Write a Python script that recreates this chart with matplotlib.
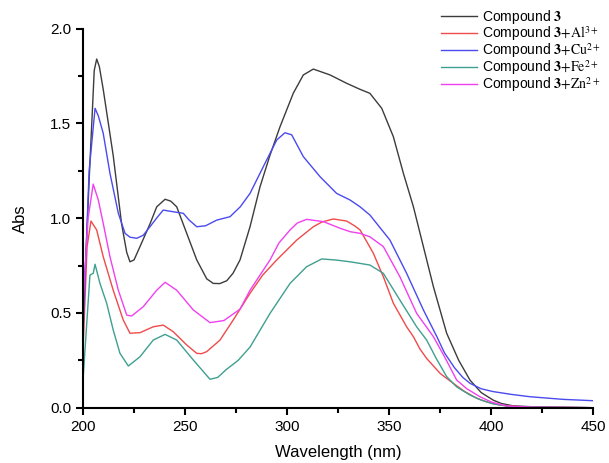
import matplotlib.pyplot as plt
from matplotlib.ticker import MultipleLocator

plt.rcParams['font.family'] = ['Liberation Sans', 'DejaVu Sans']
plt.rcParams['mathtext.fontset'] = 'stix'

# wavelength (nm) / absorbance
wl_c3 = [200, 203, 205.5, 206.7, 208, 209.9, 214.8, 218.9, 221.4, 223, 225, 227.9, 232.8, 236.1,
         240.2, 243, 245.9, 250.8, 255.7, 260.6, 263.8, 267, 270.4, 273.5, 276.9, 281.8, 286.7,
         291.5, 296.5, 303, 307.9, 312.8, 321, 329.1, 335.7, 340.5, 346.3, 352, 356.9, 361.8,
         366.7, 371.6, 378.1, 384, 389.5, 395, 400.9, 405, 410.6, 420, 450]
abs_c3 = [0.45, 1.2, 1.78, 1.84, 1.8, 1.68, 1.33, 0.97, 0.82, 0.77, 0.78, 0.85, 0.97, 1.06,
          1.10, 1.09, 1.06, 0.92, 0.78, 0.68, 0.656, 0.655, 0.67, 0.71, 0.78, 0.955, 1.166,
          1.33, 1.483, 1.66, 1.756, 1.787, 1.756, 1.712, 1.68, 1.659, 1.58, 1.43, 1.237, 1.061,
          0.85, 0.639, 0.393, 0.25, 0.146, 0.08, 0.04, 0.022, 0.01, 0.005, 0.0]

wl_al = [200, 202, 203.9, 206.7, 209.9, 214.8, 219.7, 223, 227.9, 234.4, 239.3, 244.2, 250.8,
         255.7, 258, 260.6, 267.1, 274, 281.8, 288, 294.9, 304.7, 312.8, 317, 322.6, 329.1,
         333, 335.7, 342.2, 347.1, 352, 358.5, 361.8, 365, 368.3, 375, 381.3, 387, 392.8, 398,
         404.2, 415, 450]
abs_al = [0.3, 0.85, 0.985, 0.938, 0.797, 0.62, 0.463, 0.393, 0.396, 0.427, 0.436, 0.401, 0.331,
          0.287, 0.285, 0.296, 0.357, 0.47, 0.604, 0.70, 0.78, 0.885, 0.955, 0.98, 0.996, 0.985,
          0.96, 0.938, 0.815, 0.691, 0.551, 0.427, 0.375, 0.31, 0.26, 0.18, 0.129, 0.085, 0.05,
          0.03, 0.014, 0.004, 0.0]

wl_cu = [200, 203, 205.9, 207.5, 209.9, 213.2, 217.3, 220.6, 223, 226.3, 229.5, 232.8, 236,
         239.3, 244.2, 249.1, 252, 255.7, 260, 265.5, 272, 277, 281.8, 288.3, 294.9, 298.9,
         302.2, 307.9, 316.1, 324.2, 330.8, 335.7, 340.5, 350.3, 358.5, 366.7, 373.3, 377,
         382, 386, 389.5, 395, 400.9, 410, 418.9, 435.2, 449.9]
abs_cu = [0.4, 1.25, 1.58, 1.54, 1.448, 1.237, 1.026, 0.92, 0.90, 0.894, 0.91, 0.955, 1.0,
          1.043, 1.034, 1.026, 0.99, 0.955, 0.96, 0.99, 1.008, 1.06, 1.131, 1.272, 1.413, 1.451,
          1.44, 1.325, 1.219, 1.131, 1.096, 1.06, 1.017, 0.885, 0.709, 0.516, 0.375, 0.29,
          0.21, 0.16, 0.129, 0.1, 0.085, 0.07, 0.058, 0.044, 0.037]

wl_fe = [200, 203.4, 205, 205.9, 208.3, 211.6, 214.8, 218.1, 222.2, 227.9, 234.4, 240.2, 245.9,
         254, 262.2, 266, 270, 276, 281.8, 291.6, 301.4, 309.5, 316.9, 324.2, 330.8, 340.5,
         347.1, 355.2, 363.4, 368.3, 373, 378.1, 383, 389.5, 395, 400.9, 410, 450]
abs_fe = [0.146, 0.70, 0.709, 0.757, 0.656, 0.551, 0.41, 0.287, 0.22, 0.269, 0.357, 0.387, 0.357,
          0.252, 0.15, 0.16, 0.2, 0.25, 0.32, 0.498, 0.656, 0.744, 0.785, 0.779, 0.77, 0.753,
          0.709, 0.568, 0.427, 0.357, 0.26, 0.164, 0.11, 0.067, 0.04, 0.02, 0.005, 0.0]

wl_zn = [200, 202.5, 205, 207.5, 209.9, 213.2, 217.3, 221.4, 223.8, 229.5, 236.1, 240.2, 245.9,
         254, 262.2, 269, 276.9, 281.8, 286.7, 291.6, 296, 301.4, 305, 309.5, 317.7, 325.9,
         330.8, 335.7, 340.5, 347.1, 355.2, 363.4, 371.6, 377, 383, 388, 394.4, 400, 407.5,
         420, 450]
abs_zn = [0.55, 1.0, 1.18, 1.096, 0.973, 0.797, 0.62, 0.489, 0.484, 0.533, 0.62, 0.662, 0.62,
          0.516, 0.449, 0.46, 0.52, 0.62, 0.70, 0.78, 0.87, 0.938, 0.975, 0.994, 0.982, 0.947,
          0.929, 0.92, 0.902, 0.85, 0.691, 0.498, 0.375, 0.27, 0.146, 0.1, 0.058, 0.03, 0.009,
          0.003, 0.0]

labels = [r'Compound $\mathbf{3}$',
          r'Compound $\mathbf{3}\mathrm{+Al}^{3+}$',
          r'Compound $\mathbf{3}\mathrm{+Cu}^{2+}$',
          r'Compound $\mathbf{3}\mathrm{+Fe}^{2+}$',
          r'Compound $\mathbf{3}\mathrm{+Zn}^{2+}$']

fig = plt.figure(figsize=(6.09, 4.63), dpi=100)
ax = fig.add_axes([0.1363, 0.1194, 0.8382, 0.8186])

ax.plot(wl_c3, abs_c3, color='#3c3c3c', lw=1.0, label=labels[0])
ax.plot(wl_al, abs_al, color='#f04a4a', lw=1.0, label=labels[1])
ax.plot(wl_cu, abs_cu, color='#4a4af0', lw=1.0, label=labels[2])
ax.plot(wl_fe, abs_fe, color='#3f9f90', lw=1.0, label=labels[3])
ax.plot(wl_zn, abs_zn, color='#f040f0', lw=1.0, label=labels[4])

ax.set_xlim(200, 450)
ax.set_ylim(0, 2.0)
ax.xaxis.set_major_locator(MultipleLocator(50))
ax.xaxis.set_minor_locator(MultipleLocator(25))
ax.yaxis.set_major_locator(MultipleLocator(0.5))
ax.yaxis.set_minor_locator(MultipleLocator(0.25))
ax.yaxis.set_major_formatter(plt.FormatStrFormatter('%.1f'))

for s in ['top', 'right']:
    ax.spines[s].set_visible(False)
for s in ['left', 'bottom']:
    ax.spines[s].set_linewidth(1.5)

ax.tick_params(which='major', direction='out', length=5, width=1.5, labelsize=11)
ax.tick_params(which='minor', direction='out', length=3.5, width=1.5)

ax.set_xlabel('Wavelength (nm)', fontsize=12, labelpad=8)
ax.set_ylabel('Abs', fontsize=12, labelpad=16)

ax.legend(loc='upper left', bbox_to_anchor=(0.69, 1.07), frameon=False, fontsize=10,
          handlelength=2.6, handletextpad=0.4, labelspacing=-0.12, borderaxespad=0)

fig.savefig('out.png', dpi=100)
